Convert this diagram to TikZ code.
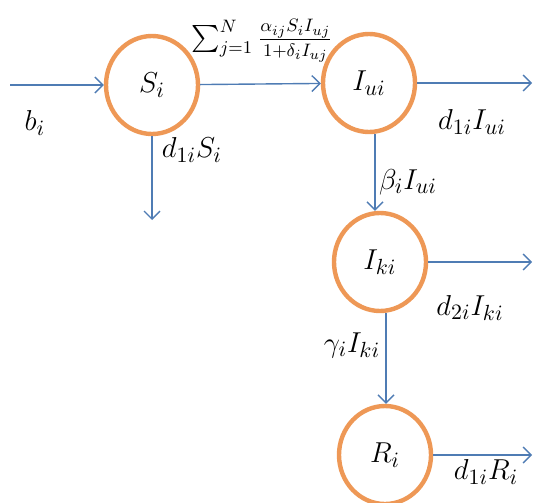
\documentclass[tikz,border=0pt]{standalone}
\usepackage{amsmath,amssymb}
\usepackage{xcolor}
\usepackage{tikz}
\usetikzlibrary{arrows.meta,positioning,calc,shapes.geometric}
\definecolor{flowblue}{RGB}{79,124,180}
\definecolor{ring}{RGB}{238,152,86}
\tikzset{
  comp/.style={draw=ring,line width=2.2pt,ellipse,minimum width=46pt,minimum height=49pt,inner sep=0pt},
  flow/.style={->,flowblue,line width=0.7pt},
  rate/.style={inner sep=1pt}
}

\begin{document}
\begin{tikzpicture}[x=0.5pt,y=-0.5pt,>={Straight Barb[length=4pt,width=8pt]},every node/.style={font=\fontsize{15}{17}\selectfont}]
\useasboundingbox (0,0) rectangle (533,502);
% compartments
\node[comp] (S) at (152,85) {$S_i$};
\node[comp] (Iu) at (369,83) {$I_{ui}$};
\node[comp] (Ik) at (380,262) {$I_{ki}$};
\node[comp] (R) at (385,455) {$R_i$};
% free ends
\coordinate (bin) at (10,85);
\coordinate (dS) at (152,220);
\coordinate (oIu) at (532,83);
\coordinate (oIk) at (532,262);
\coordinate (oR) at (532,455);
% flows
\draw[flow] (bin) -- (S);
\draw[flow] (S) -- (Iu);
\draw[flow] (S) -- (dS);
\draw[flow] (Iu) -- (oIu);
\draw[flow] ([xshift=3pt]Iu.south) -- ([xshift=3pt]Iu.south |- Ik.north);
\draw[flow] (Ik) -- (oIk);
\draw[flow] ([xshift=3pt]Ik.south) -- ([xshift=3pt]Ik.south |- R.north);
\draw[flow] (R) -- (oR);
% rates
\node[rate] (lb) at (35,123) {$b_i$};
\node[rate,inner sep=0pt,font=\fontsize{13.5}{15}\selectfont] (lsum) at (262,41) {$\sum_{j=1}^{N}\frac{\alpha_{ij}S_iI_{uj}}{1+\delta_iI_{uj}}$};
\node[rate] (ldS) at (192,150) {$d_{1i}S_i$};
\node[rate] (ldIu) at (472,122) {$d_{1i}I_{ui}$};
\node[rate] (lbeta) at (408,182) {$\beta_iI_{ui}$};
\node[rate] (ldIk) at (470,308) {$d_{2i}I_{ki}$};
\node[rate] (lgam) at (352,345) {$\gamma_iI_{ki}$};
\node[rate] (ldR) at (486,472) {$d_{1i}R_i$};
\end{tikzpicture}
\end{document}
